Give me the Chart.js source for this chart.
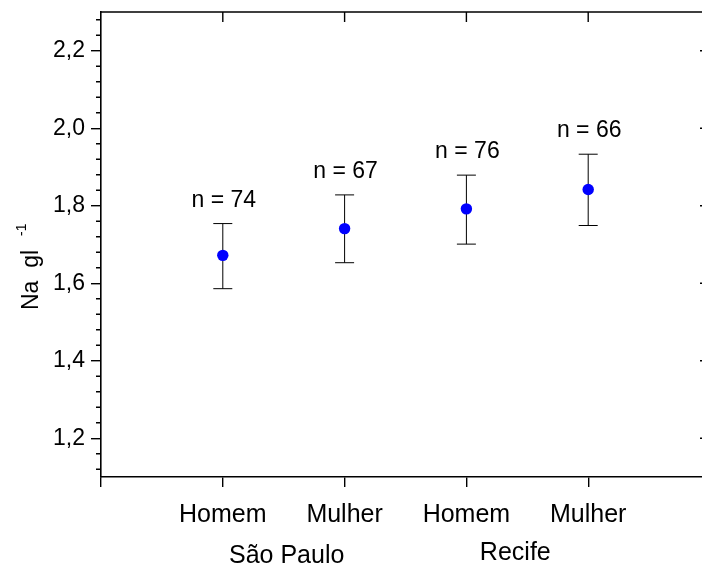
<!DOCTYPE html>
<html><head><meta charset="utf-8">
<script src="https://cdn.jsdelivr.net/npm/chart.js@4/dist/chart.umd.min.js"></script>
<style>
html,body{margin:0;padding:0;overflow:hidden;background:#fff;width:702px;height:572px}
#wrap{position:absolute;left:0;top:0;width:720px;height:572px}
</style></head>
<body><div id="wrap"><canvas id="c" width="720" height="572"></canvas></div>
<script>
// ---- data ----
const categories = ['Homem', 'Mulher', 'Homem', 'Mulher'];
const groups = ['São Paulo', 'Recife'];
const groupMembers = [[0, 1], [2, 3]];
const means = [1.672, 1.741, 1.792, 1.842];
const upper = [1.754, 1.828, 1.879, 1.933];
const lower = [1.586, 1.653, 1.701, 1.749];
const counts = [74, 67, 76, 66];
const yTicks = [1.2, 1.4, 1.6, 1.8, 2.0, 2.2];
const yTitle = 'Na  gl';
const yTitleSup = '-1';

const FONT = '"Liberation Sans", Arial, Helvetica, sans-serif';
Chart.defaults.font.family = FONT;
Chart.defaults.color = '#000';

const AXIS_W = 1.6;
const xPositions = categories.map((_, i) => i + 1);

const framePlugin = {
  id: 'frame',
  beforeDatasetsDraw(chart) {
    const {ctx, scales: {x, y}} = chart;
    ctx.save();
    ctx.strokeStyle = '#000';
    ctx.lineWidth = 1;
    means.forEach((m, i) => {
      const px = x.getPixelForValue(xPositions[i]);
      const pu = y.getPixelForValue(upper[i]);
      const pl = y.getPixelForValue(lower[i]);
      ctx.beginPath();
      ctx.moveTo(px, pu); ctx.lineTo(px, pl);
      ctx.moveTo(px - 9.5, pu); ctx.lineTo(px + 9.5, pu);
      ctx.moveTo(px - 9.5, pl); ctx.lineTo(px + 9.5, pl);
      ctx.stroke();
    });
    ctx.restore();
  },
  afterDraw(chart) {
    const {ctx, chartArea: a, scales: {x, y}} = chart;
    ctx.save();
    ctx.strokeStyle = '#000';
    ctx.lineWidth = AXIS_W;
    ctx.beginPath();
    ctx.moveTo(a.left, a.top); ctx.lineTo(a.right, a.top);
    ctx.moveTo(a.right, a.top); ctx.lineTo(a.right, a.bottom);
    ctx.stroke();
    ctx.lineWidth = 1.4;
    ctx.beginPath();
    xPositions.forEach(v => {
      const px = x.getPixelForValue(v);
      ctx.moveTo(px, a.top); ctx.lineTo(px, a.top + 10);
    });
    yTicks.forEach(v => {
      const py = y.getPixelForValue(v);
      ctx.moveTo(a.right, py); ctx.lineTo(a.right - 10, py);
    });
    for (let k = 0; k <= 30; k++) {
      const r = Math.round((1.12 + k * 0.04) * 100) / 100;
      if (r > 2.3 || r < 1.1) continue;
      if (yTicks.some(t => Math.abs(t - r) < 1e-6)) continue;
      const py = y.getPixelForValue(r);
      ctx.moveTo(a.left, py); ctx.lineTo(a.left - 5, py);
    }
    ctx.stroke();

    ctx.fillStyle = '#000';
    ctx.font = '23px ' + FONT;
    ctx.textAlign = 'center';
    ctx.textBaseline = 'alphabetic';
    counts.forEach((n, i) => {
      const px = x.getPixelForValue(xPositions[i]);
      const pu = y.getPixelForValue(upper[i]);
      ctx.fillText('n = ' + n, px + 1, pu - 17);
    });

    const nudge = [[3, 563], [-12, 560]];
    ctx.font = '25px ' + FONT;
    groups.forEach((g, gi) => {
      const mem = groupMembers[gi];
      const cx = (x.getPixelForValue(xPositions[mem[0]]) + x.getPixelForValue(xPositions[mem[mem.length - 1]])) / 2;
      ctx.fillText(g, cx + nudge[gi][0], nudge[gi][1]);
    });

    ctx.translate(38, 310);
    ctx.rotate(-Math.PI / 2);
    ctx.textAlign = 'left';
    ctx.font = '23px ' + FONT;
    ctx.fillText(yTitle, 0, 0);
    const w = ctx.measureText(yTitle).width;
    ctx.font = '14px ' + FONT;
    ctx.fillText(yTitleSup, w + 14, -12);
    ctx.restore();
  }
};

function zeroPad(s) { s.paddingTop = 0; s.paddingBottom = 0; s.paddingLeft = 0; s.paddingRight = 0; }

new Chart(document.getElementById('c'), {
  type: 'scatter',
  data: {
    datasets: [{
      data: means.map((m, i) => ({x: xPositions[i], y: m})),
      backgroundColor: '#0000ff',
      borderColor: '#0000ff',
      borderWidth: 0,
      pointRadius: 5.7,
      pointHoverRadius: 5.7
    }]
  },
  options: {
    responsive: false,
    animation: false,
    devicePixelRatio: 1,
    events: [],
    layout: {padding: {top: 12, right: 10, left: 0, bottom: 0}},
    plugins: {legend: {display: false}, tooltip: {enabled: false}},
    scales: {
      x: {
        type: 'linear', position: 'bottom', min: 0, max: 5,
        afterBuildTicks: s => { s.ticks = [0, 1, 2, 3, 4, 5].map(v => ({value: v})); },
        afterFit: s => { s.height = 95; zeroPad(s); },
        ticks: {
          callback: v => (categories[v - 1] !== undefined ? categories[v - 1] : ''),
          font: {size: 25, family: FONT}, color: '#000', padding: 13,
          maxRotation: 0, autoSkip: false
        },
        grid: {drawOnChartArea: false, drawTicks: true, tickLength: 10, color: '#000', lineWidth: 1.4},
        border: {display: true, color: '#000', width: AXIS_W}
      },
      y: {
        type: 'linear', position: 'left', min: 1.1, max: 2.3,
        afterBuildTicks: s => { s.ticks = yTicks.map(v => ({value: v})); },
        afterFit: s => { s.width = 101; zeroPad(s); },
        ticks: {
          callback: v => v.toFixed(1).replace('.', ','),
          font: {size: 23, family: FONT}, color: '#000', padding: 6
        },
        grid: {drawOnChartArea: false, drawTicks: true, tickLength: 10, color: '#000', lineWidth: 1.4},
        border: {display: true, color: '#000', width: AXIS_W}
      }
    }
  },
  plugins: [framePlugin]
});
</script>
</body></html>
